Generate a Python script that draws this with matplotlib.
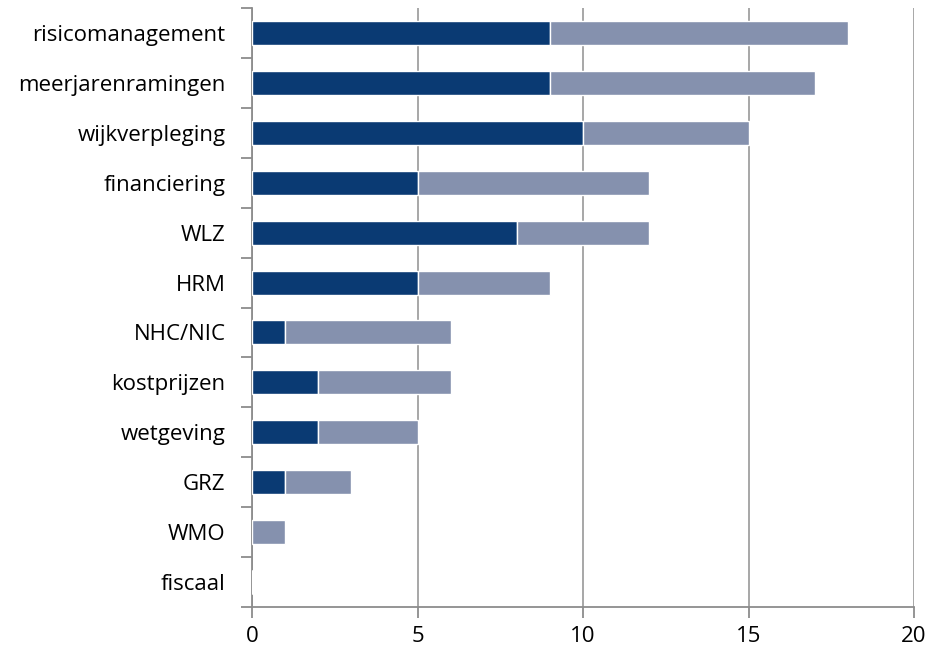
import numpy as np
import matplotlib
matplotlib.use("Agg")
from matplotlib import pyplot as plt

# data (top to bottom as shown)
categories = ['risicomanagement', 'meerjarenramingen', 'wijkverpleging', 'financiering',
              'WLZ', 'HRM', 'NHC/NIC', 'kostprijzen', 'wetgeving', 'GRZ', 'WMO', 'fiscaal']
dark_vals = [9, 9, 10, 5, 8, 5, 1, 2, 2, 1, 0, 0]
light_vals = [9, 8, 5, 7, 4, 4, 5, 4, 3, 2, 1, 0]
x_ticks = [0, 5, 10, 15, 20]

plt.rcParams['font.family'] = ['Open Sans', 'DejaVu Sans']

fig = plt.figure(figsize=(9.3, 6.53), dpi=100)
ax = fig.add_axes([252 / 930, 1 - 607 / 653, 662 / 930, 599 / 653])

n = len(categories)
y = np.arange(n)[::-1]  # first category at top
dark = np.array(dark_vals)
light = np.array(light_vals)

ax.barh(y, dark, height=0.48, color='#0a3a73', edgecolor='white', linewidth=1, zorder=3)
ax.barh(y, light, left=dark, height=0.48, color='#8591ae', edgecolor='white', linewidth=1, zorder=3)

ax.set_xlim(0, 20)
ax.set_ylim(-0.5, n - 0.5)
ax.set_xticks(x_ticks)
ax.set_xticklabels([str(t) for t in x_ticks], fontsize=16)
ax.set_yticks(y)
ax.set_yticklabels(categories, fontsize=16)
ax.set_yticks(np.arange(n + 1) - 0.5, minor=True)

ax.grid(axis='x', color='#a0a0a0', linewidth=1.3, zorder=0)
for s in ['top', 'right']:
    ax.spines[s].set_visible(False)
for s in ['left', 'bottom']:
    ax.spines[s].set_color('#8c8c8c')
    ax.spines[s].set_linewidth(1.3)

ax.tick_params(axis='y', which='major', length=0, pad=19)
ax.tick_params(axis='y', which='minor', length=8, width=1.3, color='#8c8c8c')
ax.tick_params(axis='x', which='major', length=8, width=1.3, color='#8c8c8c', pad=6)

plt.savefig('out.png', dpi=100)
